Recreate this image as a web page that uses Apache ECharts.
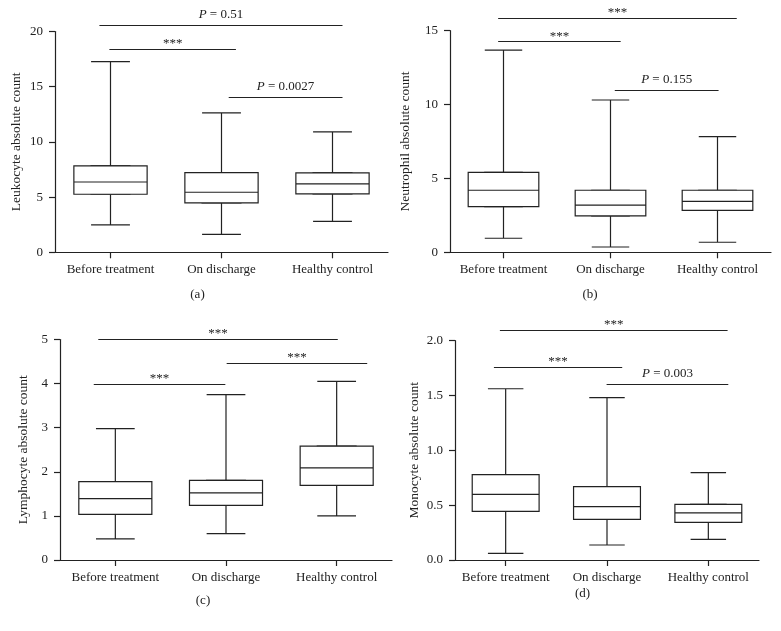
<!DOCTYPE html>
<html>
<head>
<meta charset="utf-8">
<script src="https://cdn.jsdelivr.net/npm/echarts@6/dist/echarts.min.js"></script>
<style>html,body{margin:0;padding:0;background:#fff}#c{width:781px;height:631px}</style>
</head>
<body>
<div id="c"></div>
<script>
// ---------- data ----------
const categories = ['Before treatment', 'On discharge', 'Healthy control'];

// each box: [min, Q1, median, Q3, max]
const leukocyte  = [[2.48, 5.26, 6.37, 7.82, 17.28], [1.63, 4.47, 5.44, 7.22, 12.63], [2.81, 5.29, 6.19, 7.19, 10.91]];
const neutrophil = [[0.95, 3.09, 4.20, 5.41, 13.69], [0.36, 2.46, 3.20, 4.20, 10.31], [0.68, 2.84, 3.45, 4.20, 7.83]];
const lymphocyte = [[0.48, 1.035, 1.39, 1.775, 2.98], [0.60, 1.24, 1.52, 1.805, 3.75], [1.00, 1.69, 2.09, 2.58, 4.05]];
const monocyte   = [[0.061, 0.444, 0.599, 0.778, 1.562], [0.137, 0.371, 0.486, 0.669, 1.480], [0.188, 0.343, 0.429, 0.508, 0.796]];

const yTicksA = [0, 5, 10, 15, 20];
const yTicksB = [0, 5, 10, 15];
const yTicksC = [0, 1, 2, 3, 4, 5];
const yTicksD = [0, 0.5, 1, 1.5, 2];
const yTickLabelsD = ['0.0', '0.5', '1.0', '1.5', '2.0'];

// significance brackets: [from (category units), to (category units), value level, text]
const sigA = [[-0.10, 2.09, 20.59, 'P = 0.51'], [-0.01, 1.13, 18.39, '***'], [1.065, 2.09, 14.04, 'P = 0.0027']];
const sigB = [[-0.05, 2.18, 15.84, '***'], [-0.05, 1.095, 14.26, '***'], [1.04, 2.01, 10.99, 'P = 0.155']];
const sigC = [[-0.154, 2.01, 5.0, '***'], [1.006, 2.276, 4.456, '***'], [-0.195, 0.994, 3.995, '***']];
const sigD = [[-0.057, 2.19, 2.094, '***'], [-0.116, 1.15, 1.757, '***'], [0.996, 2.197, 1.605, 'P = 0.003']];

// ---------- chart ----------
const FONT = '"Liberation Serif", "Times New Roman", serif';
const INK = '#222';
const LW = 1.2;

const panels = [
  { name: 'Leukocyte absolute count',  data: leukocyte,  ticks: yTicksA, sig: sigA, caption: '(a)',
    grid: { left: 55, top: 31.5, width: 333, height: 220.8 }, nameGap: 32, cap: [197.5, 294.5] },
  { name: 'Neutrophil absolute count', data: neutrophil, ticks: yTicksB, sig: sigB, caption: '(b)',
    grid: { left: 450, top: 30.7, width: 321, height: 221.6 }, nameGap: 38, cap: [590, 294.5] },
  { name: 'Lymphocyte absolute count', data: lymphocyte, ticks: yTicksC, sig: sigC, caption: '(c)',
    grid: { left: 60, top: 339.5, width: 332, height: 220.5 }, nameGap: 29.5, cap: [203, 601] },
  { name: 'Monocyte absolute count',   data: monocyte,   ticks: yTicksD, sig: sigD, caption: '(d)', labels: yTickLabelsD,
    grid: { left: 455, top: 340.7, width: 304, height: 219.3 }, nameGap: 34, cap: [582.5, 594] }
];

function fmt(t) {
  return t.charAt(0) === 'P' ? '{i|P}' + t.slice(1) : t;
}

const option = {
  animation: false,
  backgroundColor: '#fff',
  grid: [], xAxis: [], yAxis: [], series: [], graphic: []
};

const boxStyle = { color: '#fff', borderColor: INK, borderWidth: LW };

panels.forEach(function (p, k) {
  option.grid.push(Object.assign({ containLabel: false }, p.grid));
  const t = p.ticks;
  option.yAxis.push({
    type: 'value', gridIndex: k,
    min: t[0], max: t[t.length - 1], interval: t[1] - t[0],
    name: p.name, nameLocation: 'middle', nameGap: p.nameGap,
    nameTextStyle: { fontFamily: FONT, fontSize: 13.5, color: INK },
    axisLine: { show: true, onZero: false, lineStyle: { color: INK, width: LW } },
    axisTick: { show: true, length: 6, lineStyle: { color: INK, width: LW } },
    axisLabel: {
      margin: 12, fontFamily: FONT, fontSize: 13, color: INK,
      formatter: function (v) {
        if (!p.labels) return String(v);
        for (let i = 0; i < t.length; i++) if (Math.abs(t[i] - v) < 1e-9) return p.labels[i];
        return String(v);
      }
    },
    splitLine: { show: false }
  });
  // visible category axis (box series)
  option.xAxis.push({
    type: 'category', gridIndex: k, data: categories, boundaryGap: true, position: 'bottom',
    axisLine: { show: true, onZero: false, lineStyle: { color: INK, width: LW } },
    axisTick: { show: true, alignWithLabel: true, length: 6, lineStyle: { color: INK, width: LW } },
    axisLabel: { interval: 0, margin: 11, fontFamily: FONT, fontSize: 13, color: INK },
    splitLine: { show: false }
  });
  // hidden category axis (whisker series)
  option.xAxis.push({ type: 'category', gridIndex: k, data: categories, boundaryGap: true, show: false,
    axisLine: { onZero: false }, splitLine: { show: false } });
  // hidden value axis for significance brackets
  option.xAxis.push({ type: 'value', gridIndex: k, min: -0.5, max: 2.5, show: false,
    axisLine: { onZero: false }, splitLine: { show: false } });

  // whiskers with narrow caps
  option.series.push({
    type: 'boxplot', xAxisIndex: 3 * k + 1, yAxisIndex: k,
    boxWidth: ['35%', '35%'], data: p.data, z: 2, silent: true,
    itemStyle: boxStyle, emphasis: { disabled: true }
  });
  // boxes (Q1..Q3 with median)
  option.series.push({
    type: 'boxplot', xAxisIndex: 3 * k, yAxisIndex: k,
    boxWidth: ['66%', '66%'],
    data: p.data.map(function (d) { return [d[1], d[1], d[2], d[3], d[3]]; }),
    z: 3, silent: true,
    itemStyle: boxStyle, emphasis: { disabled: true }
  });
  // significance brackets
  option.series.push({
    type: 'lines', coordinateSystem: 'cartesian2d', xAxisIndex: 3 * k + 2, yAxisIndex: k,
    clip: false, silent: true, z: 4,
    lineStyle: { color: INK, width: LW, opacity: 1, curveness: 0 },
    label: {
      show: true, position: 'middle', fontFamily: FONT, fontSize: 13, color: INK,
      rich: { i: { fontFamily: FONT, fontSize: 13, fontStyle: 'italic', color: INK } }
    },
    data: p.sig.map(function (s) {
      return {
        coords: [[s[0], s[2]], [s[1], s[2]]],
        label: { formatter: fmt(s[3]), distance: s[3] === '***' ? -1 : 4 }
      };
    })
  });
  option.graphic.push({
    type: 'text', x: p.cap[0], y: p.cap[1], silent: true,
    style: { text: p.caption, fontFamily: FONT, fontSize: 13, fill: INK, align: 'center', verticalAlign: 'middle' }
  });
});

const chart = echarts.init(document.getElementById('c'), null, { renderer: 'canvas' });
chart.setOption(option);
</script>
</body>
</html>
